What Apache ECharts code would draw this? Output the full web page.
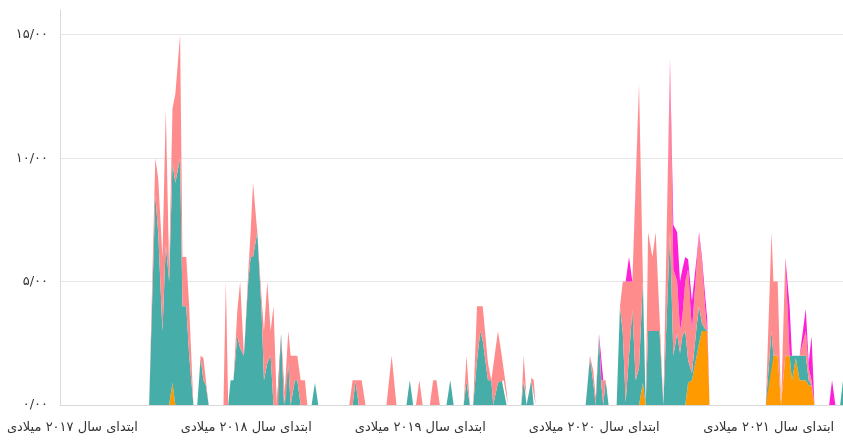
<!DOCTYPE html>
<html>
<head>
<meta charset="utf-8">
<script src="https://cdn.jsdelivr.net/npm/echarts@6/dist/echarts.min.js"></script>
<style>
  html, body { margin: 0; padding: 0; background: #fff; }
  #chart { width: 843px; height: 441px; }
</style>
</head>
<body>
<div id="chart"></div>
<script>
// vertex dates (shared by all stacked series)
var dates = [
  '2016-12-06',
  '2017-06-11','2017-06-24','2017-06-30','2017-07-09','2017-07-16','2017-07-23','2017-07-30','2017-08-05','2017-08-15','2017-08-20','2017-08-28','2017-09-03','2017-09-12','2017-09-20','2017-09-27','2017-10-03','2017-10-08','2017-10-14',
  '2017-11-14','2017-11-19','2017-11-24','2017-11-29','2017-12-05','2017-12-13','2017-12-19','2017-12-27','2018-01-05','2018-01-10','2018-01-15','2018-01-24','2018-02-02','2018-02-07','2018-02-14','2018-02-21','2018-02-27','2018-03-06','2018-03-09','2018-03-15','2018-03-21','2018-03-24','2018-03-30','2018-04-04','2018-04-13','2018-04-18','2018-04-25','2018-05-04','2018-05-09','2018-05-18','2018-05-25','2018-06-01',
  '2018-08-05','2018-08-12','2018-08-18','2018-08-25','2018-08-31','2018-09-08','2018-10-22','2018-11-02','2018-11-12','2018-12-03','2018-12-10','2018-12-17','2018-12-23','2018-12-30','2019-01-06','2019-01-21','2019-01-28','2019-02-04','2019-02-11','2019-02-25','2019-03-05','2019-03-12','2019-04-02','2019-04-08','2019-04-15','2019-04-22','2019-04-30','2019-05-07','2019-05-12','2019-05-23','2019-05-30','2019-06-03','2019-06-13','2019-06-21','2019-06-25','2019-07-01','2019-07-04','2019-08-01','2019-08-06','2019-08-12','2019-08-15','2019-08-22','2019-08-27','2019-08-31',
  '2019-12-14','2019-12-23','2019-12-30','2020-01-04','2020-01-11','2020-01-16','2020-01-20','2020-01-25','2020-01-31','2020-02-17','2020-02-24','2020-03-01','2020-03-07','2020-03-14','2020-03-21','2020-03-28','2020-04-04','2020-04-12','2020-04-18','2020-04-23','2020-05-02','2020-05-09','2020-05-17','2020-05-25','2020-06-08','2020-06-15','2020-06-23','2020-06-29','2020-07-04','2020-07-10','2020-07-16','2020-07-24','2020-08-03','2020-08-08','2020-08-14','2020-08-20','2020-08-25','2020-08-30',
  '2020-12-26','2021-01-07','2021-01-11','2021-01-20','2021-01-27','2021-02-05','2021-02-14','2021-02-19','2021-02-27','2021-03-07','2021-03-20','2021-03-26','2021-04-01','2021-04-07','2021-05-08','2021-05-14','2021-05-21','2021-05-31','2021-06-06'
];

var orangeVals = [
  0,
  0,0,0,0,0,0,0.9,0,0,0,0,0,0,0,0,0,0,0,
  0,0,0,0,0,0,0,0,0,0,0,0,0,0,0,0,0,0,0,0,0,0,0,0,0,0,0,0,0,0,0,0,
  0,0,0,0,0,0,0,0,0,0,0,0,0,0,0,0,0,0,0,0,0,0,0,0,0,0,0,0,0,0,0,0,0,0,0,0,0,0,0,0,0,0,0,0,
  0,0,0,0,0,0,0,0,0,0,0,0,0,0,0,0,0,0.9,0,0,0,0,0,0,0,0,0,0,0,0,0.9,1.0,2.0,2.5,3.0,3.0,3.0,0,
  0,2.0,2.0,2.0,0,2.0,2.0,1.0,1.9,1.0,1.0,0.8,0.8,0,0,0,0,0,0
];
var tealVals = [
  0,
  0,8.5,7.0,3.0,6.5,5.0,8.9,9.0,10.0,4.0,4.0,2.0,0,0,1.9,1.0,0.8,0,
  0,0,0,1.0,1.0,2.8,2.3,2.0,5.0,6.0,6.0,7.0,3.8,1.0,1.7,2.0,0,0,0,2.9,0,0,1.7,0,1.0,1.0,0,0,0,0,0.9,0,
  0,0,0.95,0,0,0,0,0,0,0,1.0,0,0,0,0,0,0,0,0,0,1.0,0,0,0.95,0,0,1.8,3.0,2.6,1.0,1.0,0,0.9,1.0,1.0,0,0,0,1.0,0,0,1.0,0,0,
  0,1.9,0.9,0,2.8,0.8,0,1.0,0,0,4.0,2.9,0.1,2.0,3.9,1.0,1.5,4.1,0,3.0,3.0,3.0,3.0,0,7.0,2.0,2.9,2.1,2.8,3.0,0.9,0.3,1.2,1.5,0.3,0.1,0,0,
  0,1.0,0,0,0,0,0,1.0,0.1,1.0,1.0,0.2,0,0,0,0,0,0,1.0
];
var salmonVals = [
  0,
  0,1.5,2.2,3.0,5.5,0.5,2.2,3.6,5.0,2.0,2.0,2.0,0,0,0.1,0.9,0.2,0,
  0,5.0,0,0,0,1.0,2.7,0,0.4,1.0,3.0,0,0.5,2.0,3.3,1.0,4.0,0,0,0,0,0,1.3,2.0,1.0,1.0,1.0,1.0,0,0,0,0,
  0,1.0,0.05,1.0,1.0,0,0,2.0,0,0,0,0,0,1.0,0,0,1.0,1.0,0,0,0,0,0,1.05,0,0,2.2,1.0,1.4,0.7,0,1.0,2.1,1.0,1.0,0.6,0,0,1.0,0.3,0,0.1,1.0,0,
  0,0.1,0.5,0.3,0.1,0.2,1.0,0,0,0,0,2.1,4.9,3.0,1.1,7.8,11.5,0.3,0,4.0,3.0,4.0,0.6,0,6.8,3.5,2.1,0.9,0.8,2.0,3.7,1.7,2.5,2.9,2.5,1.0,0,0,
  0,4.0,3.0,3.0,0,4.0,0,0,0,0,1.0,0.5,0.2,0,0,0,0,0,0
];
// the magenta category only appears from late 2019 on
var magentaVals = [
  null,
  null,null,null,null,null,null,null,null,null,null,null,null,null,null,null,null,null,null,
  null,null,null,null,null,null,null,null,null,null,null,null,null,null,null,null,null,null,null,null,null,null,null,null,null,null,null,null,null,null,null,null,
  null,null,null,null,null,null,null,null,null,null,null,null,null,null,null,null,null,null,null,null,null,null,null,null,null,null,null,null,null,null,null,null,null,null,null,null,null,null,null,null,null,null,null,null,
  0,0,0,0,0,0,0,0,0,0,0,0,0,1.0,0,0.2,0,0,0,0,0,0,0,0,0.2,1.8,2.0,2.0,1.9,1.0,0.4,1.2,0.3,0.1,0.2,0.5,0.5,0,
  0,0,0,0,0,0,2.0,0,0,0,0.9,0.2,1.8,0,0,1.0,0,0,0
];

var yearTicks = [2017, 2018, 2019, 2020, 2021];

function toFa(s) {
  return String(s).replace(/\d/g, function (d) { return '۰۱۲۳۴۵۶۷۸۹'[d]; });
}

function pairs(vals) {
  return dates.map(function (d, i) { return [d, vals[i] === null ? '-' : vals[i]]; });
}

function areaSeries(name, color, vals) {
  return {
    name: name,
    type: 'line',
    stack: 'total',
    symbol: 'none',
    showSymbol: false,
    lineStyle: { width: 0, opacity: 0 },
    areaStyle: { color: color, opacity: 1 },
    itemStyle: { color: color },
    emphasis: { disabled: true },
    data: pairs(vals)
  };
}

var chart = echarts.init(document.getElementById('chart'));
var option = {
  animation: false,
  grid: { left: 60, right: 0, top: 10, bottom: 36 },
  xAxis: {
    type: 'time',
    min: '2016-12-06',
    max: '2021-06-06',
    minInterval: 365 * 24 * 3600 * 1000,
    axisLine: { lineStyle: { color: '#d9d9d9' } },
    axisTick: { show: false },
    splitLine: { show: false },
    axisLabel: {
      margin: 16,
      color: '#333',
      fontSize: 13,
      fontFamily: 'DejaVu Sans',
      hideOverlap: false,
      formatter: function (val) {
        var d = new Date(val);
        if (d.getMonth() === 0 && d.getDate() === 1 && yearTicks.indexOf(d.getFullYear()) >= 0) {
          return 'ابتدای سال ' + toFa(d.getFullYear()) + ' میلادی';
        }
        return '';
      }
    }
  },
  yAxis: {
    type: 'value',
    min: 0,
    max: 16,
    interval: 5,
    axisLine: { show: true, lineStyle: { color: '#d9d9d9' } },
    axisTick: { show: false },
    splitLine: { showMaxLine: false, lineStyle: { color: '#e6e6e6' } },
    axisLabel: {
      margin: 12,
      color: '#333',
      fontSize: 13,
      fontFamily: 'DejaVu Sans',
      showMaxLabel: false,
      formatter: function (v) { return toFa(v.toFixed(2)).replace('.', '/'); }
    }
  },
  series: [
    areaSeries('orange', '#ff9a00', orangeVals),
    areaSeries('teal', '#47ada8', tealVals),
    areaSeries('salmon', '#ff8c8c', salmonVals),
    areaSeries('magenta', '#ff1fd6', magentaVals)
  ]
};
chart.setOption(option);
</script>
</body>
</html>
